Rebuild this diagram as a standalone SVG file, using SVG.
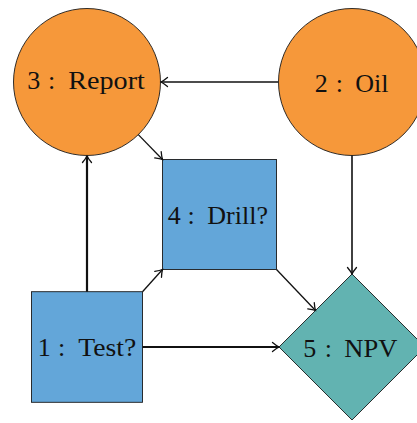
<svg xmlns="http://www.w3.org/2000/svg" width="417" height="423" viewBox="0 0 417 423">
  <style>
    .chance { fill: #F6983A; stroke: #1a1a1a; stroke-width: 0.9; }
    .decision { fill: #63A6D9; stroke: #1a1a1a; stroke-width: 0.9; }
    .value { fill: #62B3B1; stroke: #1a1a1a; stroke-width: 0.9; }
    .lbl { font-family: "Liberation Serif", "DejaVu Serif", serif; font-size: 26px; fill: #111; }
    .edge { fill: none; stroke: #111; stroke-width: 1.3; marker-end: url(#tip); }
    .edge.heavy { stroke-width: 2.2; }
    .edge.mid { stroke-width: 1.6; }
  </style>
  <defs>
    <marker id="tip" markerUnits="userSpaceOnUse" viewBox="-8 -6 10 12" refX="0" refY="0" markerWidth="10" markerHeight="12" orient="auto">
      <path d="M -6.5 -4.5 Q -2.5 -1.2 0 0 Q -2.5 1.2 -6.5 4.5" fill="none" stroke="#111" stroke-width="1.3" stroke-linecap="round"/>
    </marker>
  </defs>

  <!-- nodes -->
  <g id="node3">
    <circle class="chance" cx="87" cy="82" r="73.5"/>
    <text class="lbl" y="89.3"><tspan x="27.3">3 </tspan><tspan x="48.1">: </tspan><tspan x="68.3" textLength="76.5" lengthAdjust="spacingAndGlyphs">Report</tspan></text>
  </g>
  <g id="node2">
    <circle class="chance" cx="352" cy="82" r="73.5"/>
    <text class="lbl" y="91.7"><tspan x="314.7">2 </tspan><tspan x="335.7">: </tspan><tspan x="355.3">Oil</tspan></text>
  </g>
  <g id="node4">
    <rect class="decision" x="162.5" y="159.5" width="114" height="110"/>
    <text class="lbl" y="224"><tspan x="167.7">4 </tspan><tspan x="187.4">: </tspan><tspan x="207.3">Drill?</tspan></text>
  </g>
  <g id="node1">
    <rect class="decision" x="31.5" y="291.7" width="111" height="110.6"/>
    <text class="lbl" y="356"><tspan x="37.7">1 </tspan><tspan x="58.1">: </tspan><tspan x="78.3" textLength="58" lengthAdjust="spacingAndGlyphs">Test?</tspan></text>
  </g>
  <g id="node5">
    <polygon class="value" points="352,274 425,347 352,420 279,347"/>
    <text class="lbl" y="356.7"><tspan x="303.3">5 </tspan><tspan x="324.7">: </tspan><tspan x="344.3" textLength="53" lengthAdjust="spacingAndGlyphs">NPV</tspan></text>
  </g>

  <!-- connectors -->
  <g id="edges">
    <path class="edge" d="M 278 82 L 161 82"/>
    <path class="edge" d="M 138.3 134.6 L 162.5 159.5"/>
    <path class="edge heavy" d="M 87 291.7 L 87 156"/>
    <path class="edge" d="M 142.5 291.7 L 162.5 269.5"/>
    <path class="edge mid" d="M 352 155.5 L 352 274"/>
    <path class="edge" d="M 276.5 269.5 L 315.5 310.5"/>
    <path class="edge heavy" d="M 142.5 347 L 279 347"/>
  </g>
</svg>
